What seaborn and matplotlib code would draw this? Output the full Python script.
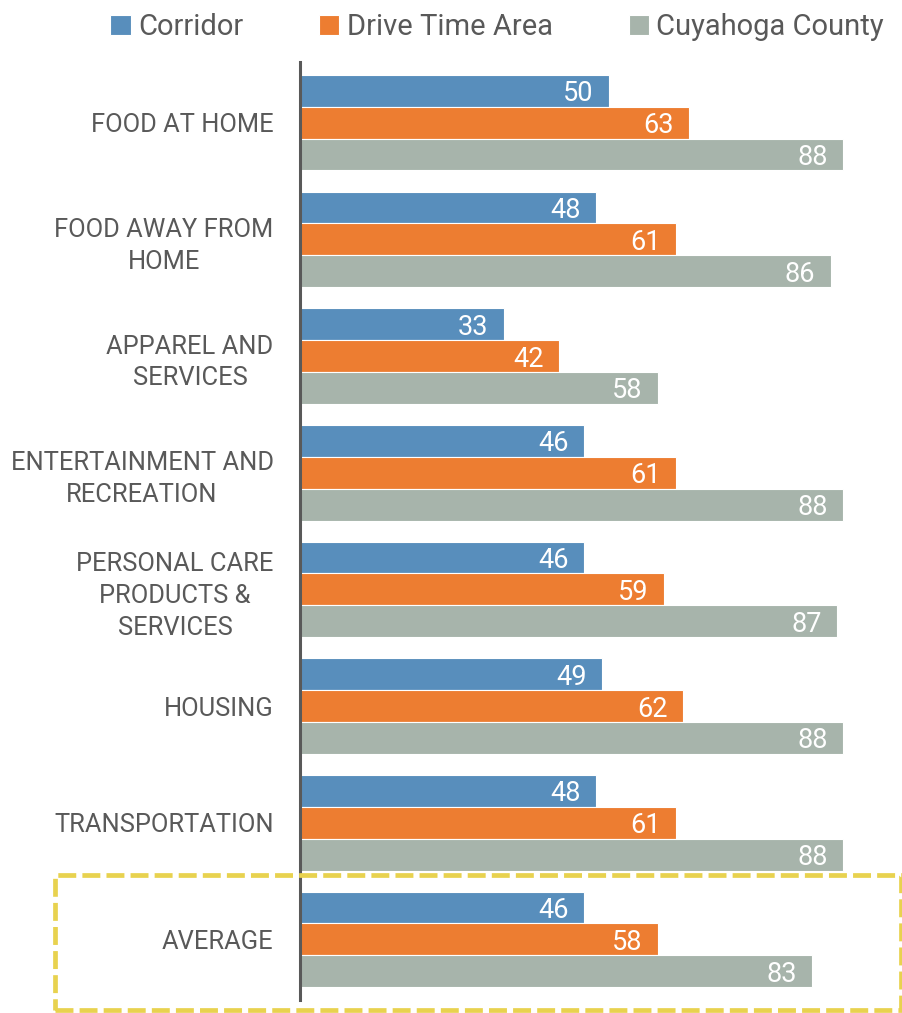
import matplotlib
matplotlib.use("Agg")
import matplotlib.pyplot as plt
from matplotlib import font_manager
from matplotlib.patches import Rectangle
import seaborn as sns
import pandas as pd

categories = [
    "FOOD AT HOME",
    "FOOD AWAY FROM\nHOME",
    "APPAREL AND\nSERVICES",
    "ENTERTAINMENT AND\nRECREATION",
    "PERSONAL CARE\nPRODUCTS &\nSERVICES",
    "HOUSING",
    "TRANSPORTATION",
    "AVERAGE",
]
series_names = ["Corridor", "Drive Time Area", "Cuyahoga County"]
corridor = [50, 48, 33, 46, 46, 49, 48, 46]
drive_time = [63, 61, 42, 61, 59, 62, 61, 58]
county = [88, 86, 58, 88, 87, 88, 88, 83]

colors = ["#588EBC", "#ED7D31", "#A7B4AB"]
text_gray = "#595959"

sns.set_theme(style="white")
available = {f.name for f in font_manager.fontManager.ttflist}
candidates = ["Roboto", "Liberation Sans"]
family = next((c for c in candidates if c in available), "DejaVu Sans")
plt.rcParams["font.family"] = [family, "DejaVu Sans"]

df = pd.DataFrame({
    "category": categories * 3,
    "series": [s for s in series_names for _ in categories],
    "value": corridor + drive_time + county,
})

fig = plt.figure(figsize=(9.03, 10.13), dpi=100)
ax = fig.add_axes([300 / 903, 1 - 1000 / 1013, 603 / 903, 938 / 1013])

sns.barplot(
    data=df, x="value", y="category", hue="series",
    order=categories, hue_order=series_names, palette=colors,
    orient="h", width=0.82, ax=ax, legend=False,
    edgecolor="white", linewidth=0.8, saturation=1,
)

for container in ax.containers:
    texts = ax.bar_label(container, fmt="%d", label_type="edge", padding=-11,
                         color="white", fontsize=19.5)
    for t in texts:
        t.set_ha("right")
        t.set_va("center_baseline")

ax.set_xlim(0, 603 / 6.17)
ax.set_ylim(7.52, -0.52)
ax.set_xlabel("")
ax.set_ylabel("")
ax.set_xticks([])
for side in ["top", "right", "bottom"]:
    ax.spines[side].set_visible(False)
ax.spines["left"].set_color(text_gray)
ax.spines["left"].set_linewidth(2.2)
ax.tick_params(axis="y", length=0, pad=19, labelsize=18.4, labelcolor=text_gray)
for lbl in ax.get_yticklabels():
    lbl.set_multialignment("center")
    lbl.set_linespacing(1.42)

handles = [Rectangle((0, 0), 1, 1, facecolor=c, edgecolor="white", linewidth=0.8)
           for c in colors]
fig.legend(handles, series_names, loc="center", bbox_to_anchor=(497 / 903, 1 - 27 / 1013),
           ncol=3, frameon=False, fontsize=21, labelcolor=text_gray,
           handlelength=0.7, handleheight=0.7, handletextpad=0.25,
           columnspacing=2.6)

# dashed highlight around the average group
box = Rectangle((55 / 903, 1 - 1010 / 1013), 846 / 903, 135 / 1013,
                transform=fig.transFigure, fill=False, edgecolor="#E8D24F",
                linewidth=3.4, linestyle=(0, (3.8, 1.3)), clip_on=False)
fig.patches.append(box)

fig.savefig("out.png", dpi=100)
